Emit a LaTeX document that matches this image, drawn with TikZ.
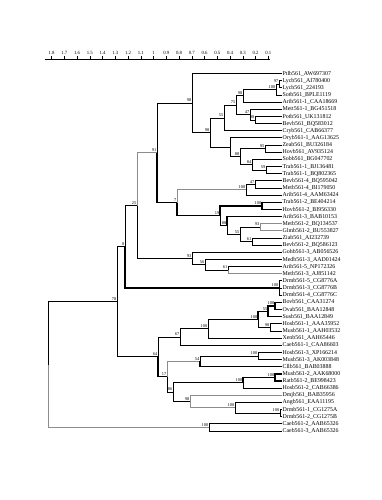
\documentclass[tikz,border=0pt]{standalone}
\usepackage{fontspec}
\setmainfont{Liberation Serif}
\begin{document}
\begin{tikzpicture}[x=1pt,y=-1pt,
  br/.style={line width=0.8pt, black},
  bg/.style={line width=0.8pt, black!45},
  bb/.style={line width=1.4pt, black},
  leaf/.style={anchor=west, inner sep=0.4pt, font=\fontsize{5.9}{6}\selectfont},
  bs/.style={anchor=south east, inner sep=0.2pt, xshift=-0.4pt, yshift=0.8pt, font=\fontsize{4.4}{4.5}\selectfont},
  sc/.style={anchor=south, inner sep=0.5pt, font=\fontsize{4.8}{5}\selectfont}]
\useasboundingbox (0,0) rectangle (381,500);
\fill[white] (0,0) rectangle (381,500);
\newcommand\inode[4]{\coordinate (#1) at (#2,#3); \node[bs] (b#1) at (#1) {#4};}
% scale
\coordinate (sa) at (45,59);
\coordinate (sb) at (270,59);
\draw[line width=0.5pt] (sa) -- (sb);
\foreach \v/\t [count=\i] in {1.8/1.8,1.7/1.7,1.6/1.6,1.5/1.5,1.4/1.4,1.3/1.3,1.2/1.2,1.1/1.1,1/1,0.9/0.9,0.8/0.8,0.7/0.7,0.6/0.6,0.5/0.5,0.4/0.4,0.3/0.3,0.2/0.2,0.1/0.1}{
  \coordinate (t\i) at ({281-127.5*\v},59);
  \draw[line width=0.4pt] (t\i) -- ++(0,-2.5);
  \node[sc] (s\i) at ({281-127.5*\v},55.5) {\t};
}
% leaves
\node[leaf] (L0) at (282,73.5) {Ptlb561\_AW697307};
\node[leaf] (L1) at (282,80.65) {Lycb561\_AI780400};
\node[leaf] (L2) at (282,87.8) {Lycb561\_224193};
\node[leaf] (L3) at (282,94.95) {Sotb561\_BPLE1119};
\node[leaf] (L4) at (282,102.1) {Arib561-1\_CAA18669};
\node[leaf] (L5) at (282,109.25) {Mett561-1\_BG451518};
\node[leaf] (L6) at (282,116.4) {Potb561\_UK131812};
\node[leaf] (L7) at (282,123.55) {Bevb561\_BQ583012};
\node[leaf] (L8) at (282,130.7) {Cryb561\_CAB66377};
\node[leaf] (L9) at (282,137.85) {Oryb561-1\_AAG13625};
\node[leaf] (L10) at (282,145.0) {Zeab561\_BU326184};
\node[leaf] (L11) at (282,152.15) {Hovb561\_AV935124};
\node[leaf] (L12) at (282,159.3) {Sobb561\_BG047702};
\node[leaf] (L13) at (282,166.45) {Trab561-1\_BJ136481};
\node[leaf] (L14) at (282,173.6) {Trab561-1\_BQ802365};
\node[leaf] (L15) at (282,180.75) {Bevb561-4\_BQ595042};
\node[leaf] (L16) at (282,187.9) {Metb561-4\_BI179050};
\node[leaf] (L17) at (282,195.05) {Arib561-4\_AAM63424};
\node[leaf] (L18) at (282,202.2) {Trab561-2\_BE404214};
\node[leaf] (L19) at (282,209.35) {Hovb561-2\_BI956330};
\node[leaf] (L20) at (282,216.5) {Arib561-3\_BAB10153};
\node[leaf] (L21) at (282,223.65) {Metb561-2\_BQ134537};
\node[leaf] (L22) at (282,230.8) {Glmb561-2\_BU553827};
\node[leaf] (L23) at (282,237.95) {Ziab561\_AI232739};
\node[leaf] (L24) at (282,245.1) {Bevb561-2\_BQ586123};
\node[leaf] (L25) at (282,252.25) {Gohb561-3\_AB056526};
\node[leaf] (L26) at (282,259.4) {Medb561-3\_AAD01424};
\node[leaf] (L27) at (282,266.55) {Arib561-5\_NP172326};
\node[leaf] (L28) at (282,273.7) {Metb561-3\_AJ851142};
\node[leaf] (L29) at (282,280.85) {Drmb561-5\_CG8776A};
\node[leaf] (L30) at (282,288.0) {Drmb561-3\_CG8776B};
\node[leaf] (L31) at (282,295.15) {Drmb561-4\_CG8776C};
\node[leaf] (L32) at (282,302.3) {Bovb561\_CAA31274};
\node[leaf] (L33) at (282,309.45) {Ovab561\_BAA12848};
\node[leaf] (L34) at (282,316.6) {Susb561\_BAA12849};
\node[leaf] (L35) at (282,323.75) {Hosb561-1\_AAA35952};
\node[leaf] (L36) at (282,330.9) {Musb561-1\_AAH03532};
\node[leaf] (L37) at (282,338.05) {Xenb561\_AAH65446};
\node[leaf] (L38) at (282,345.2) {Caeb561-1\_CAA86603};
\node[leaf] (L39) at (282,352.35) {Hosb561-3\_XP166214};
\node[leaf] (L40) at (282,359.5) {Musb561-3\_AK003848};
\node[leaf] (L41) at (282,366.65) {Cllb561\_BAB03888};
\node[leaf] (L42) at (282,373.8) {Musb561-2\_AAK68000};
\node[leaf] (L43) at (282,380.95) {Ratb561-2\_BE998423};
\node[leaf] (L44) at (282,388.1) {Hosb561-2\_CAB66386};
\node[leaf] (L45) at (282,395.25) {Dmjb561\_BAB35956};
\node[leaf] (L46) at (282,402.4) {Angb561\_EAA11195};
\node[leaf] (L47) at (282,409.55) {Drmb561-1\_CG1275A};
\node[leaf] (L48) at (282,416.7) {Drmb561-2\_CG1275B};
\node[leaf] (L49) at (282,423.85) {Caeb561-2\_AAB65326};
\node[leaf] (L50) at (282,431.0) {Caeb561-3\_AAB65326};
% internal nodes
\inode{n97}{279}{84.2}{97}
\inode{n100a}{276}{89.6}{100}
\inode{n88a}{243}{95.85}{98}
\inode{n98c}{255}{120}{98}
\inode{n47}{250}{114.6}{47}
\inode{n75}{236}{105.2}{75}
\inode{n55}{224}{117.95}{55}
\inode{n95}{265}{148.6}{95}
\inode{n59}{266}{170.0}{59}
\inode{n84}{252}{164.65}{84}
\inode{n88b}{240}{156.6}{88}
\coordinate (nF) at (230,147.2);
\inode{nD}{210}{132.6}{98}
\inode{nA}{192}{103.05}{98}
\inode{n47b}{255}{184.3}{47}
\inode{n100b}{246}{189.7}{100}
\inode{n100c}{262}{205.8}{100}
\inode{n93b}{260}{227.2}{93}
\inode{n61b}{252}{241.5}{61}
\inode{n55b}{240}{234.4}{55}
\inode{n88c}{227}{225.45}{88}
\inode{n19}{220}{215.6}{19}
\inode{n7}{177}{202.65}{7}
\inode{n91}{157}{152.85}{91}
\inode{n61c}{228}{270.1}{61}
\inode{n56}{205}{264.75}{56}
\inode{n93}{192}{258.5}{93}
\inode{n25}{137}{205.7}{25}
\inode{nDrm}{279}{288}{100}
\inode{n8}{125}{246.85}{8}
\inode{n100m}{275}{305.9}{100}
\inode{n55m}{268}{311.25}{55}
\inode{nHM}{270}{327.3}{98}
\inode{n100n}{258}{319.3}{100}
\inode{n100x}{208}{328.7}{100}
\inode{n67}{180}{336.95}{67}
\inode{nHM3}{258}{355.9}{100}
\inode{n54}{200}{361.3}{54}
\inode{nMR}{275}{377.4}{100}
\inode{nMRH}{243}{382.75}{100}
\inode{nDrm12}{280}{413.1}{100}
\inode{nAng}{235}{407.75}{100}
\inode{n98i}{190}{401.5}{98}
\inode{n86}{173}{392.1}{86}
\inode{n17}{167}{376.7}{17}
\inode{n64}{158}{356.8}{64}
\inode{n78}{117}{301.8}{78}
\inode{nCae}{209}{427.4}{100}
\coordinate (root) at (48,364.6);
% grey branches
\draw[bg] (n93b) |- (L21.west);
\draw[bg] (n93b) |- (L22.west);
\draw[bg] (n25) |- (n91);
\draw[bg] (n61c) |- (L28.west);
\draw[bg] (n17) |- (n54);
\draw[bg] (n98i) |- (L45.west);
\draw[bg] (n98i) |- (nAng);
\draw[bg] (root) |- (nCae);
\draw[bg] (n7) |- (n100b);
% black branches
\draw[br] (nA) |- (L0.west);
\draw[br] (nA) |- (nD);
\draw[br] (nD) |- (n55);
\draw[br] (nD) |- (nF);
\draw[br] (n55) |- (n75);
\draw[br] (n55) |- (L8.west);
\draw[br] (n75) |- (n88a);
\draw[br] (n75) |- (n47);
\draw[br] (n88a) |- (n100a);
\draw[br] (n88a) |- (L4.west);
\draw[br] (n100a) |- (n97);
\draw[br] (n100a) |- (L3.west);
\draw[br] (n97) |- (L1.west);
\draw[br] (n97) |- (L2.west);
\draw[br] (n47) |- (L5.west);
\draw[br] (n47) |- (n98c);
\draw[br] (n98c) |- (L6.west);
\draw[br] (n98c) |- (L7.west);
\draw[br] (nF) |- (L9.west);
\draw[br] (nF) |- (n88b);
\draw[br] (n88b) |- (n95);
\draw[br] (n88b) |- (n84);
\draw[br] (n95) |- (L10.west);
\draw[br] (n95) |- (L11.west);
\draw[br] (n84) |- (L12.west);
\draw[br] (n84) |- (n59);
\draw[br] (n59) |- (L13.west);
\draw[br] (n59) |- (L14.west);
\draw[br] (n91) |- (nA);
\draw[bb] (n91) |- (n7);
\draw[bb] (n7) |- (n19);
\draw[br] (n100b) |- (n47b);
\draw[br] (n100b) |- (L17.west);
\draw[br] (n47b) |- (L15.west);
\draw[br] (n47b) |- (L16.west);
\draw[bb] (n19) |- (n100c);
\draw[br] (n19) |- (n88c);
\draw[bb] (n100c) |- (L18.west);
\draw[bb] (n100c) |- (L19.west);
\draw[bb] (n88c) |- (L20.west);
\draw[br] (n88c) |- (n55b);
\draw[br] (n55b) |- (n93b);
\draw[br] (n55b) |- (n61b);
\draw[br] (n61b) |- (L23.west);
\draw[br] (n61b) |- (L24.west);
\draw[br] (n25) |- (n93);
\draw[br] (n93) |- (L25.west);
\draw[br] (n93) |- (n56);
\draw[br] (n56) |- (L26.west);
\draw[br] (n56) |- (n61c);
\draw[br] (n61c) |- (L27.west);
\draw[br] (n8) |- (n25);
\draw[bb] (n8) |- (nDrm);
\draw[br] (nDrm) |- (L29.west);
\draw[br] (nDrm) |- (L30.west);
\draw[br] (nDrm) |- (L31.west);
\draw[br] (n78) |- (n8);
\draw[br] (n78) |- (n64);
\draw[br] (n64) |- (n67);
\draw[bb] (n64) |- (n17);
\draw[br] (n67) |- (n100x);
\draw[br] (n67) |- (L38.west);
\draw[br] (n100x) |- (n100n);
\draw[br] (n100x) |- (L37.west);
\draw[bb] (n100n) |- (n55m);
\draw[br] (n100n) |- (nHM);
\draw[bb] (n55m) |- (n100m);
\draw[bb] (n55m) |- (L34.west);
\draw[bb] (n100m) |- (L32.west);
\draw[bb] (n100m) |- (L33.west);
\draw[br] (nHM) |- (L35.west);
\draw[br] (nHM) |- (L36.west);
\draw[br] (n17) |- (n86);
\draw[br] (n54) |- (nHM3);
\draw[bb] (n54) |- (L41.west);
\draw[br] (nHM3) |- (L39.west);
\draw[br] (nHM3) |- (L40.west);
\draw[br] (n86) |- (nMRH);
\draw[br] (n86) |- (n98i);
\draw[bb] (nMRH) |- (nMR);
\draw[br] (nMRH) |- (L44.west);
\draw[bb] (nMR) |- (L42.west);
\draw[bb] (nMR) |- (L43.west);
\draw[br] (nAng) |- (L46.west);
\draw[br] (nAng) |- (nDrm12);
\draw[br] (nDrm12) |- (L47.west);
\draw[br] (nDrm12) |- (L48.west);
\draw[br] (root) |- (n78);
\draw[br] (nCae) |- (L49.west);
\draw[br] (nCae) |- (L50.west);
\end{tikzpicture}
\end{document}
